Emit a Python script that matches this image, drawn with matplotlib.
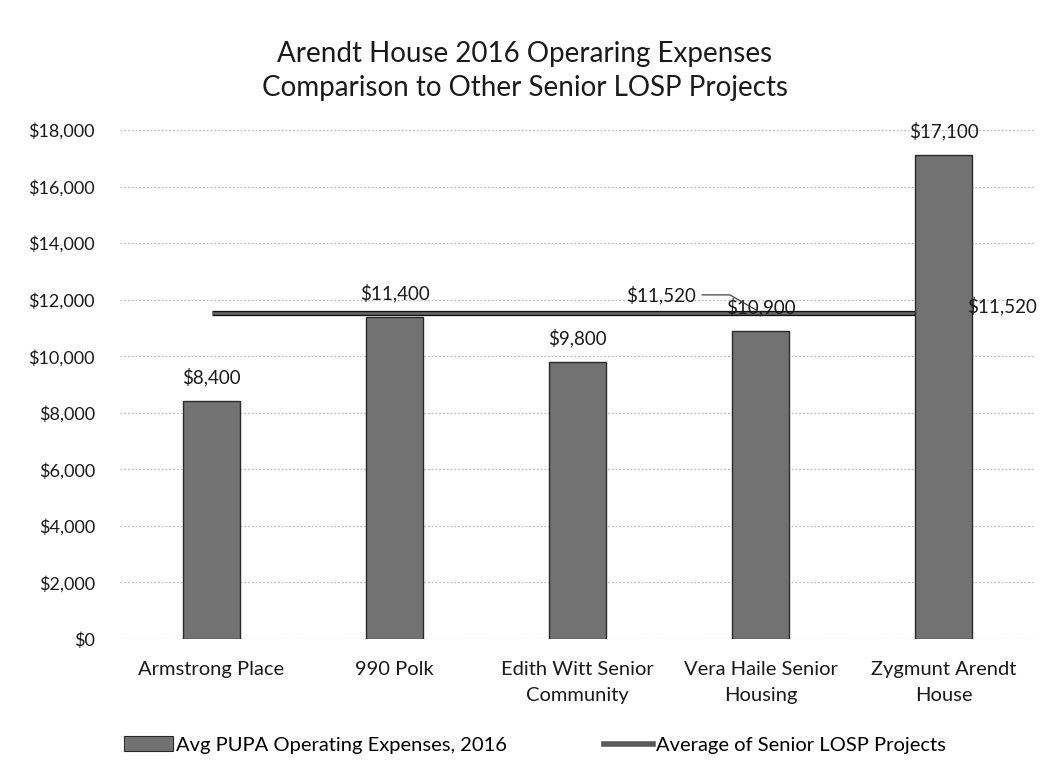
import numpy as np
import matplotlib.pyplot as plt
from matplotlib.lines import Line2D
from matplotlib.patches import Patch

projects = ['Armstrong Place', '990 Polk', 'Edith Witt Senior\nCommunity',
            'Vera Haile Senior\nHousing', 'Zygmunt Arendt\nHouse']
expenses = [8400, 11400, 9800, 10900, 17100]
average = 11520
yticks = np.arange(0, 18001, 2000)

plt.rcParams['font.family'] = ['Lato', 'DejaVu Sans']
txt = '#1a1a1a'

fig = plt.figure(figsize=(10.5, 7.74), dpi=100)
ax = fig.add_axes([0.1143, 0.1744, 0.8714, 0.6576])

x = np.arange(len(projects))
ax.set_xlim(-0.5, len(projects) - 0.5)
ax.set_ylim(0, 18000)

# average line: dark grey with black outline, category 0 to 4
avg_x = [x[0], x[-1]]
ax.plot(avg_x, [average] * 2, color='#111111', lw=3.8, solid_capstyle='butt', zorder=2)
ax.plot(avg_x, [average] * 2, color='#6a6a6a', lw=1.8, solid_capstyle='butt', zorder=2)

ax.bar(x, expenses, width=0.31, color='#727272', edgecolor='#2a2a2a',
       linewidth=1, zorder=3)

for xi, v in zip(x, expenses):
    ax.text(xi, v + 850, f'${v:,}', ha='center', va='center', fontsize=13.5,
            color=txt, zorder=4)

ax.text(4.13, average + 250, f'${average:,}', ha='left', va='center', fontsize=13.5,
        color=txt, zorder=4)
ax.annotate(f'${average:,}', xy=(2.98, average + 100), xytext=(2.65, average + 650),
            ha='right', va='center', fontsize=13.5, color=txt,
            arrowprops=dict(arrowstyle='-', color='#444444', lw=0.9, shrinkA=2, shrinkB=0,
                            connectionstyle='angle,angleA=0,angleB=-30,rad=0'),
            zorder=4)

ax.set_yticks(yticks, [f'${t:,}' for t in yticks])
ax.set_xticks(x, projects)
ax.tick_params(axis='both', length=0, colors=txt)
ax.tick_params(axis='y', labelsize=13, pad=18)
ax.tick_params(axis='x', labelsize=14.5, pad=16)
for lab in ax.get_xticklabels():
    lab.set_linespacing(1.6)

ax.grid(axis='y', color='#bdbdbd', linestyle=(0, (1.5, 1.5)), lw=0.9, zorder=0)
ax.set_axisbelow(True)
for s in ax.spines.values():
    s.set_visible(False)

fig.text(0.5, 1 - 71 / 774, 'Arendt House 2016 Operaring Expenses\nComparison to Other Senior LOSP Projects',
         ha='center', va='center', fontsize=20, color=txt, linespacing=1.4)

handles = [Patch(facecolor='#727272', edgecolor='#2a2a2a', lw=0.8),
           Line2D([0], [0], color='#5a5a5a', lw=4)]
fig.legend(handles, ['Avg PUPA Operating Expenses, 2016', 'Average of Senior LOSP Projects'],
           loc='center left', bbox_to_anchor=(0.118, 1 - 745 / 774), ncol=2, frameon=False,
           fontsize=14.5, columnspacing=4.8, handlelength=2.45, handletextpad=0.15,
           borderpad=0, borderaxespad=0)

fig.savefig('out.png', dpi=100)
